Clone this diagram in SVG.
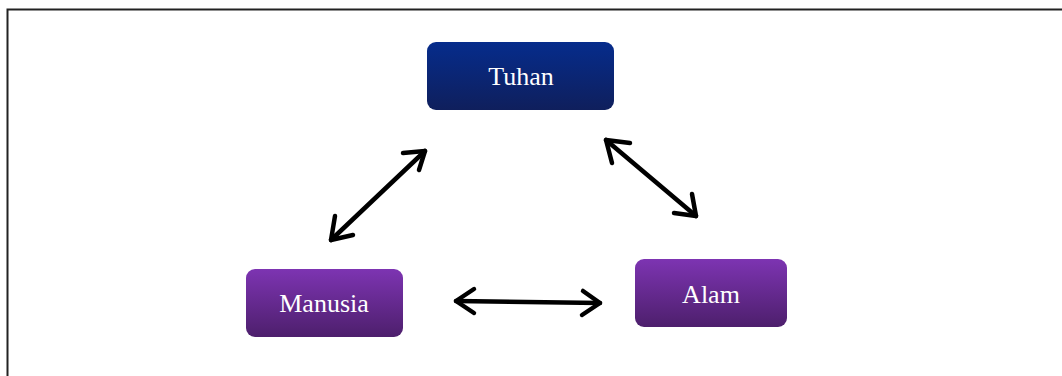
<svg xmlns="http://www.w3.org/2000/svg" width="1062" height="376" viewBox="0 0 1062 376">
<style>
.lbl{font-family:"Liberation Serif","Times New Roman",serif;font-size:26px;fill:#ffffff;text-anchor:middle;dominant-baseline:central}
.con{stroke:#000;stroke-width:4.5;fill:none;stroke-linecap:round;stroke-linejoin:round}
</style>
<defs>
<linearGradient id="gBlue" x1="0" y1="0" x2="0" y2="1">
<stop offset="0" stop-color="#062c8c"/>
<stop offset="1" stop-color="#0f1f5c"/>
</linearGradient>
<linearGradient id="gPurple" x1="0" y1="0" x2="0" y2="1">
<stop offset="0" stop-color="#7d34b2"/>
<stop offset="1" stop-color="#4d1f6c"/>
</linearGradient>
</defs>
<rect x="0" y="0" width="1062" height="376" fill="#ffffff"/>
<rect x="7.5" y="9.5" width="1080" height="400" fill="none" stroke="#222" stroke-width="2"/>
<g id="node-tuhan">
<rect x="427" y="42" width="187" height="68" rx="9" fill="url(#gBlue)"/>
<text class="lbl" x="521" y="76">Tuhan</text>
</g>
<g id="node-manusia">
<rect x="246" y="269" width="157" height="68" rx="9" fill="url(#gPurple)"/>
<text class="lbl" x="324" y="303">Manusia</text>
</g>
<g id="node-alam">
<rect x="635" y="259" width="152" height="68" rx="9" fill="url(#gPurple)"/>
<text class="lbl" x="711" y="294">Alam</text>
</g>
<g id="connectors">
<path class="con" d="M331,240 L425,151"/>
<path class="con" d="M403,153 L425,151 L419,170"/>
<path class="con" d="M335,216 L331,240 L353,235"/>
<path class="con" d="M606,140 L696,216"/>
<path class="con" d="M606,140 L630,143 M606,140 L612,163"/>
<path class="con" d="M696,216 L674,213 M696,216 L692,194"/>
<path class="con" d="M456,301 L600,303"/>
<path class="con" d="M474,289 L456,301 L474,313"/>
<path class="con" d="M583,291 L600,303 L582,315"/>
</g>
</svg>
